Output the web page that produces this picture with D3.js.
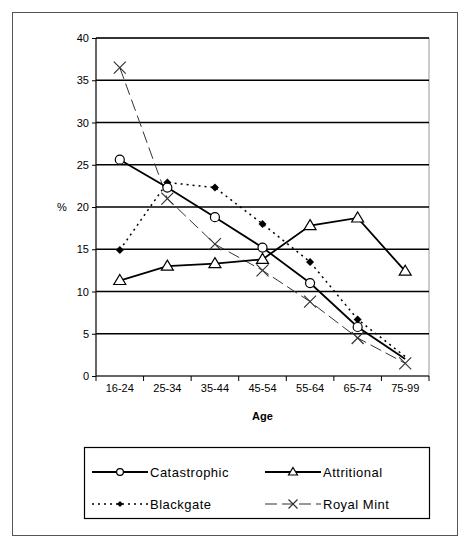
<!DOCTYPE html>
<html><head><meta charset="utf-8">
<script src="https://cdn.jsdelivr.net/npm/d3@7"></script>
<style>body{margin:0;background:#fff}svg{font-family:Arial,"Liberation Sans",sans-serif}</style>
</head><body><svg id="c" width="470" height="548"></svg>
<script>
const ages = ["16-24","25-34","35-44","45-54","55-64","65-74","75-99"];
const catastrophic = [25.6, 22.3, 18.8, 15.2, 11.0, 5.8, 2.0];
const attritional = [11.3, 13.0, 13.3, 13.8, 17.8, 18.7, 12.4];
const blackgate = [14.9, 22.9, 22.3, 18.0, 13.5, 6.7, 2.3];
const royalMint = [36.5, 21.0, 15.6, 12.5, 8.8, 4.5, 1.5];
const yTicks = [0,5,10,15,20,25,30,35,40];

const svg = d3.select("#c");
svg.append("rect").attr("x",12.5).attr("y",12.5).attr("width",445).attr("height",523)
  .attr("fill","#fff").attr("stroke","#555");
const L=96,R=429,T=38,B=376;
const x = d3.scaleBand().domain(ages).range([L,R]);
const y = d3.scaleLinear().domain([0,40]).range([B,T]);

svg.append("rect").attr("x",L).attr("y",T).attr("width",R-L).attr("height",B-T)
  .attr("fill","none").attr("stroke","#999");
svg.append("g").selectAll("line").data(yTicks.slice(1)).join("line")
  .attr("x1",L).attr("x2",R).attr("y1",d=>y(d)).attr("y2",d=>y(d)).attr("stroke","#000").attr("stroke-width",1.3);
const ya = svg.append("g").attr("transform",`translate(${L},0)`).call(d3.axisLeft(y).tickValues(yTicks).tickSize(4));
const xa = svg.append("g").attr("transform",`translate(0,${B})`).call(d3.axisBottom(x).tickSize(5).tickSizeOuter(5));
[ya,xa].forEach(a=>{a.selectAll("text").attr("font-size",11).attr("fill","#000");a.selectAll("path,line").attr("stroke","#000");});
xa.selectAll(".tick line").attr("transform",`translate(${-x.bandwidth()/2},0)`);
xa.append("line").attr("x1",R).attr("x2",R).attr("y1",0).attr("y2",5).attr("stroke","#000");
ya.select(".domain").remove(); xa.select(".domain").remove();
svg.append("line").attr("x1",L).attr("x2",L).attr("y1",T).attr("y2",B).attr("stroke","#000");
svg.append("line").attr("x1",L).attr("x2",R).attr("y1",B).attr("y2",B).attr("stroke","#000");
svg.append("text").attr("x",57).attr("y",y(20)+4).attr("font-size",11).text("%");
svg.append("text").attr("x",(L+R)/2).attr("y",420).attr("text-anchor","middle").attr("font-size",11).attr("font-weight","bold").text("Age");

const series = [
  {name:"Catastrophic",vals:catastrophic,dash:null,color:"#000",w:1.8,mk:"circle",last:false},
  {name:"Attritional",vals:attritional,dash:null,color:"#000",w:1.8,mk:"tri",last:true},
  {name:"Blackgate",vals:blackgate,dash:"2,4",color:"#000",w:1.5,mk:"diamond",last:false},
  {name:"Royal Mint",vals:royalMint,dash:"12,5",color:"#333",w:1,mk:"x",last:true}
];
const cx = i=>x(ages[i])+x.bandwidth()/2;
function marker(g,mk,px,py,k=1){
  if(mk==="circle") g.append("circle").attr("cx",px).attr("cy",py).attr("r",4.5*k).attr("fill","#fff").attr("stroke","#000").attr("stroke-width",1.2);
  if(mk==="tri") g.append("path").attr("d",`M${px},${py-6*k}L${px+6*k},${py+4*k}L${px-6*k},${py+4*k}Z`).attr("fill","#fff").attr("stroke","#000").attr("stroke-width",1.2);
  if(mk==="diamond") g.append("path").attr("d",`M${px},${py-4*k}L${px+4*k},${py}L${px},${py+4*k}L${px-4*k},${py}Z`).attr("fill","#000");
  if(mk==="x") g.append("path").attr("d",`M${px-6*k},${py-6*k}L${px+6*k},${py+6*k}M${px+6*k},${py-6*k}L${px-6*k},${py+6*k}`).attr("stroke","#333").attr("stroke-width",1.2);
}
const line = d3.line().x((d,i)=>cx(i)).y(d=>y(d));
series.slice().reverse().forEach(s=>{
  svg.append("path").attr("d",line(s.vals)).attr("fill","none").attr("stroke",s.color)
    .attr("stroke-width",s.w).attr("stroke-dasharray",s.dash);
  const g=svg.append("g");
  s.vals.forEach((v,i)=>{ if(s.last||i<s.vals.length-1) marker(g,s.mk,cx(i),y(v)); });
});

// legend
svg.append("rect").attr("x",84.5).attr("y",447.5).attr("width",345).attr("height",71).attr("fill","none").attr("stroke","#000").attr("stroke-width",1.2);
const pos=[[92,472],[265,472],[92,504],[265,504]];
series.forEach((s,i)=>{
  const [lx,ly]=pos[i];
  svg.append("line").attr("x1",lx).attr("x2",lx+56).attr("y1",ly).attr("y2",ly).attr("stroke",s.color).attr("stroke-width",s.w).attr("stroke-dasharray",s.dash);
  marker(svg,s.mk,lx+28,ly,0.75);
  svg.append("text").attr("x",lx+58).attr("y",ly+5).attr("font-size",13).attr("letter-spacing",0.5).text(s.name);
});
</script></body></html>
